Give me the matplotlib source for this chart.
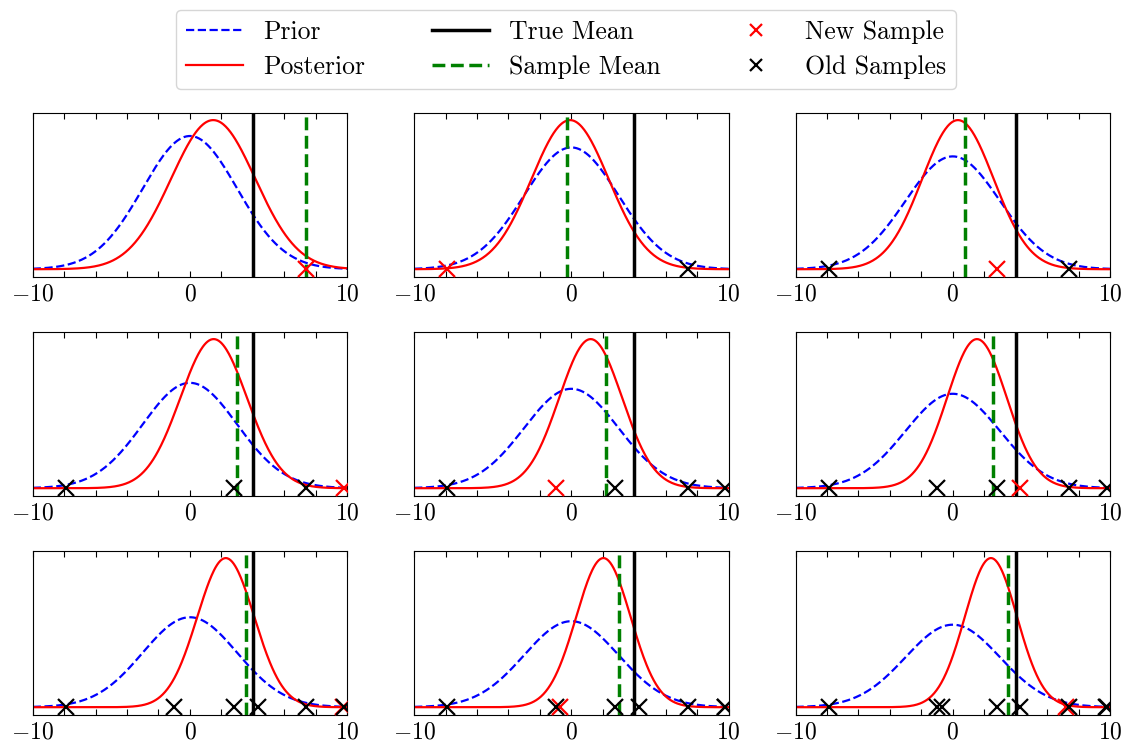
import numpy as np
import matplotlib
matplotlib.use('Agg')
import matplotlib.pyplot as plt
import matplotlib.ticker as ticker

plt.rcParams.update({
    'font.family': 'serif',
    'font.serif': ['cmr10'],
    'mathtext.fontset': 'cm',
    'axes.formatter.use_mathtext': True,
    'font.size': 17,
    'axes.linewidth': 0.8,
})

# samples in the order they were drawn (one new sample per panel)
samples = [7.4, -7.9, 2.8, 9.8, -1.0, 4.3, 9.75, -0.7, 7.2]
true_mean = 4.0
prior_mean = 0.0
prior_std = 3.0
# posterior parameters
post_mean = [1.48, -0.08, 0.33, 1.51, 1.23, 1.54, 2.28, 2.04, 2.43]
post_std = [2.68, 2.45, 2.27, 2.12, 2.00, 1.90, 1.81, 1.73, 1.66]

xs = np.linspace(-10, 10, 400)


def gauss(x, m, s):
    return np.exp(-0.5 * ((x - m) / s) ** 2) / (s * np.sqrt(2 * np.pi))


fig, axes = plt.subplots(3, 3, figsize=(11.28, 7.46), dpi=100)
fig.subplots_adjust(left=0.029, right=0.984, bottom=0.042, top=0.849,
                    wspace=0.213, hspace=0.335)

for i, ax in enumerate(axes.flat):
    seen = samples[:i + 1]
    ax.plot(xs, gauss(xs, prior_mean, prior_std), '--', color='blue', lw=1.6, label='Prior')
    ax.plot(xs, gauss(xs, post_mean[i], post_std[i]), '-', color='red', lw=1.6, label='Posterior')
    ax.axvline(true_mean, color='black', lw=2.5, label='True Mean')
    ax.axvline(np.mean(seen), color='green', ls='--', lw=2.5, label='Sample Mean')
    ax.plot([seen[-1]], [0], 'x', color='red', ms=11, mew=1.6, ls='none',
            label='New Sample', zorder=3)
    ax.plot(seen[:-1], np.zeros(len(seen) - 1), 'x', color='black', ms=11, mew=1.6,
            ls='none', label='Old Samples', zorder=4)
    ax.set_xlim(-10, 10)
    ax.set_yticks([])
    ax.xaxis.set_major_locator(ticker.FixedLocator([-10, 0, 10]))
    ax.xaxis.set_minor_locator(ticker.MultipleLocator(2))
    ax.tick_params(axis='x', which='both', direction='in', top=True, length=4, width=0.8)
    ax.tick_params(axis='x', which='major', pad=5)

handles, labels = axes[0, 0].get_legend_handles_labels()
fig.legend(handles, labels, loc='upper center', ncol=3, bbox_to_anchor=(0.502, 1.004),
           fontsize=18.5, columnspacing=2.6, handlelength=2.2, labelspacing=0.45,
           markerscale=0.85)

fig.savefig('out.png', dpi=100)
